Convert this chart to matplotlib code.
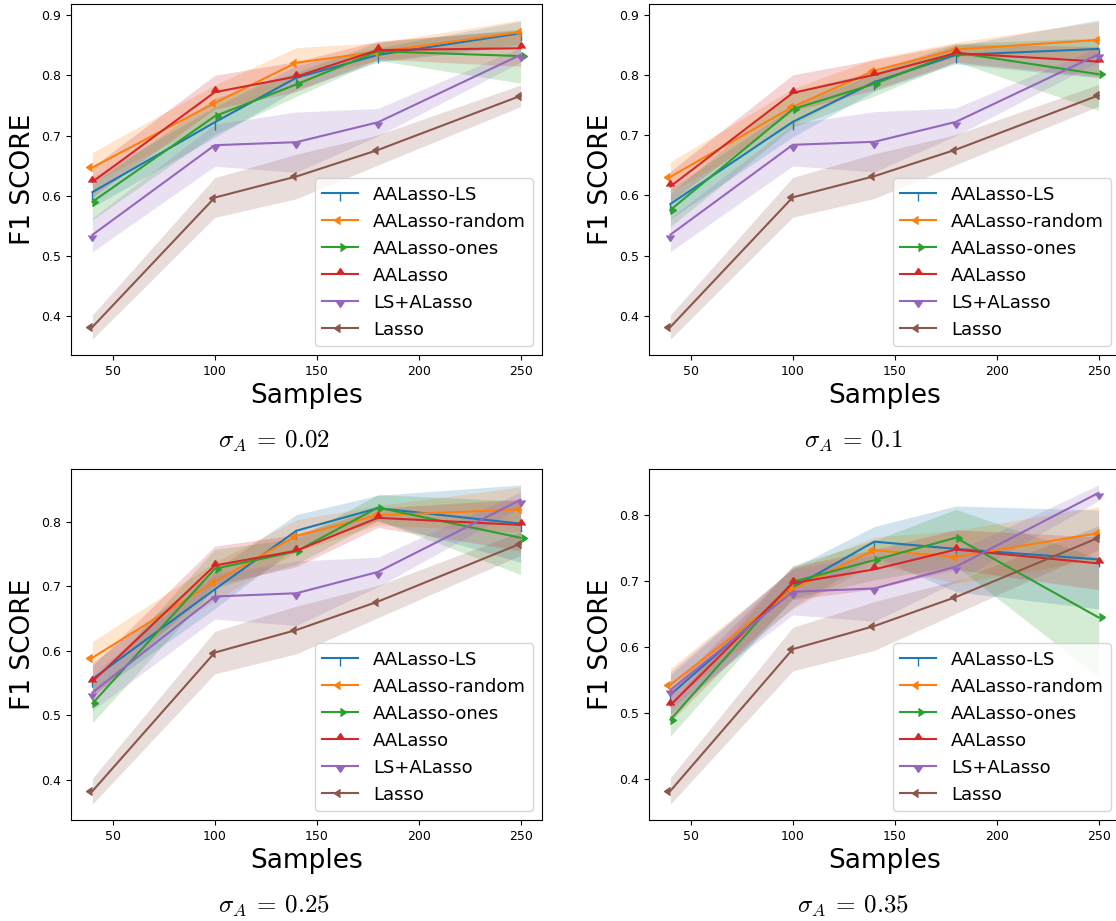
import numpy as np
import matplotlib
matplotlib.use("Agg")
import matplotlib.pyplot as plt

plt.rcParams['mathtext.fontset'] = 'cm'

samples = [40, 100, 140, 180, 250]
methods = ['AALasso-LS', 'AALasso-random', 'AALasso-ones', 'AALasso', 'LS+ALasso', 'Lasso']
sigmas = ['0.02', '0.1', '0.25', '0.35']

# mean F1, rows: AALasso-LS, AALasso-random, AALasso-ones, AALasso
mean_002 = [[0.606, 0.722, 0.796, 0.834, 0.870],
            [0.647, 0.754, 0.821, 0.839, 0.872],
            [0.590, 0.732, 0.785, 0.840, 0.832],
            [0.623, 0.772, 0.798, 0.842, 0.845]]
std_002 = [[0.025, 0.025, 0.020, 0.012, 0.020],
           [0.025, 0.030, 0.025, 0.015, 0.020],
           [0.030, 0.030, 0.020, 0.015, 0.045],
           [0.025, 0.028, 0.025, 0.015, 0.030]]

mean_01 = [[0.586, 0.722, 0.788, 0.833, 0.843],
           [0.631, 0.747, 0.807, 0.842, 0.858],
           [0.576, 0.743, 0.785, 0.837, 0.801],
           [0.615, 0.770, 0.800, 0.836, 0.822]]
std_01 = [[0.025, 0.025, 0.015, 0.015, 0.048],
          [0.025, 0.030, 0.020, 0.012, 0.030],
          [0.028, 0.030, 0.020, 0.015, 0.060],
          [0.025, 0.030, 0.025, 0.015, 0.025]]

mean_025 = [[0.556, 0.695, 0.786, 0.821, 0.797],
            [0.589, 0.707, 0.778, 0.810, 0.819],
            [0.518, 0.727, 0.754, 0.822, 0.775],
            [0.552, 0.732, 0.755, 0.806, 0.795]]
std_025 = [[0.025, 0.030, 0.025, 0.020, 0.060],
           [0.025, 0.030, 0.025, 0.015, 0.035],
           [0.030, 0.030, 0.020, 0.020, 0.057],
           [0.025, 0.030, 0.025, 0.015, 0.040]]

mean_035 = [[0.528, 0.690, 0.760, 0.749, 0.733],
            [0.543, 0.688, 0.747, 0.737, 0.773],
            [0.490, 0.699, 0.732, 0.766, 0.645],
            [0.512, 0.697, 0.718, 0.748, 0.727]]
std_035 = [[0.030, 0.030, 0.023, 0.065, 0.075],
           [0.025, 0.030, 0.020, 0.040, 0.040],
           [0.025, 0.025, 0.030, 0.043, 0.090],
           [0.025, 0.025, 0.030, 0.030, 0.040]]

# baselines, same in every panel
ls_alasso_mean = [0.535, 0.684, 0.689, 0.722, 0.834]
ls_alasso_std = [0.028, 0.035, 0.050, 0.023, 0.012]
lasso_mean = [0.382, 0.597, 0.632, 0.676, 0.766]
lasso_std = [0.020, 0.033, 0.037, 0.025, 0.018]

all_means = [mean_002, mean_01, mean_025, mean_035]
all_stds = [std_002, std_01, std_025, std_035]
markers = [3, 8, 9, 10, 11, 8]
colors = ['C0', 'C1', 'C2', 'C3', 'C4', 'C5']

fig = plt.figure(figsize=(11.16, 9.21), dpi=100)
W, H = 1116, 921
# axes boxes in pixels: left, top, width, height
boxes = [(71, 4, 471, 351), (649, 4, 471, 351),
         (71, 469, 471, 351), (649, 469, 471, 351)]
cap_xy = [(274, 441), (853, 441), (274, 906), (853, 906)]

x = np.array(samples)
for k in range(4):
    l, t, w, h = boxes[k]
    ax = fig.add_axes([l / W, 1 - (t + h) / H, w / W, h / H])
    ms = all_means[k] + [ls_alasso_mean, lasso_mean]
    ss = all_stds[k] + [ls_alasso_std, lasso_std]
    for i in range(6):
        m = np.array(ms[i])
        s = np.array(ss[i])
        ax.plot(x, m, marker=markers[i], color=colors[i], label=methods[i])
        ax.fill_between(x, m - s, m + s, color=colors[i], alpha=0.2, lw=0)
    ax.set_xticks([50, 100, 150, 200, 250])
    ax.tick_params(labelsize=9)
    ax.set_xlabel('Samples', fontsize=19)
    ax.set_ylabel('F1 SCORE', fontsize=19)
    ax.legend(loc='lower right', fontsize=13)
    cx, cy = cap_xy[k]
    fig.text(cx / W, 1 - cy / H, r'$\sigma_A\:=\:%s$' % sigmas[k],
             fontsize=18, ha='center', va='center')

fig.savefig('out.png', dpi=100)
